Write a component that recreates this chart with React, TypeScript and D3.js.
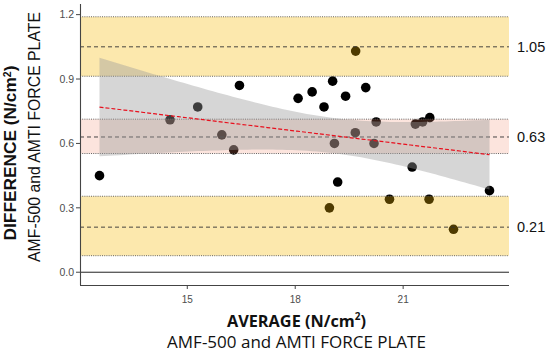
import * as d3 from 'd3';
import { useEffect, useRef } from 'react';

const WIDTH = 550;
const HEIGHT = 354;

// mean of the two devices (N/cm2)
const avgValues = [
    12.56, 14.52, 15.29, 15.96, 16.29, 16.45, 18.08, 18.47, 18.8, 19.04, 19.4, 19.96, 19.68, 19.09, 19.67, 20.25,
    20.19, 21.34, 21.54, 21.74, 21.25, 19.18, 18.95, 20.62, 21.72, 23.4, 22.4,
];
// difference between the two devices (N/cm2)
const diffValues = [
    0.45, 0.71, 0.77, 0.64, 0.57, 0.87, 0.81, 0.84, 0.77, 0.89, 0.82, 0.86, 1.03, 0.6, 0.65, 0.7, 0.6, 0.69, 0.7,
    0.72, 0.49, 0.42, 0.3, 0.34, 0.34, 0.38, 0.2,
];

// bias and limits of agreement, with their confidence bands
const refValues = [1.05, 0.63, 0.21];
const refLabels = ['1.05', '0.63', '0.21'];
const bandLow = [0.913, 0.553, 0.077];
const bandHigh = [1.19, 0.713, 0.354];
const bandColors = ['#F5B900', '#F08264', '#F5B900'];
const bandOpacity = [0.32, 0.22, 0.32];

const xTicks = [15, 18, 21];
const yTicks = [0, 0.3, 0.6, 0.9, 1.2];

const T_975_DF25 = 2.0595;

const App = () => {
    const svgRef = useRef<SVGSVGElement | null>(null);

    useEffect(() => {
        if (!svgRef.current) return;
        const svg = d3.select(svgRef.current);
        svg.selectAll('*').remove();

        const margin = { top: 4, right: 41, bottom: 69, left: 80 };
        const innerWidth = WIDTH - margin.left - margin.right;
        const innerHeight = HEIGHT - margin.top - margin.bottom;

        // ggplot-like 5% expansion
        const [xMin, xMax] = d3.extent(avgValues) as [number, number];
        const xPad = (xMax - xMin) * 0.05;
        const yLo = 0;
        const yHi = d3.max(bandHigh)!;
        const yPad = (yHi - yLo) * 0.05;

        const xScale = d3.scaleLinear().domain([xMin - xPad, xMax + xPad]).range([0, innerWidth]);
        const yScale = d3.scaleLinear().domain([yLo - yPad, yHi + yPad]).range([innerHeight, 0]);

        const g = svg.append('g').attr('transform', `translate(${margin.left},${margin.top})`);

        const pts = avgValues.map((x, i) => ({ x, y: diffValues[i] }));

        // points first, bands are laid over them
        g.append('g')
            .selectAll('circle')
            .data(pts)
            .join('circle')
            .attr('cx', (d) => xScale(d.x))
            .attr('cy', (d) => yScale(d.y))
            .attr('r', 4.8)
            .attr('fill', '#000');

        // zero line
        g.append('line')
            .attr('x1', 0)
            .attr('x2', innerWidth)
            .attr('y1', yScale(0))
            .attr('y2', yScale(0))
            .attr('stroke', '#222')
            .attr('stroke-width', 1);

        refValues.forEach((v, i) => {
            g.append('rect')
                .attr('x', 0)
                .attr('width', innerWidth)
                .attr('y', yScale(bandHigh[i]))
                .attr('height', yScale(bandLow[i]) - yScale(bandHigh[i]))
                .attr('fill', bandColors[i])
                .attr('fill-opacity', bandOpacity[i]);

            [bandLow[i], bandHigh[i]].forEach((b) => {
                g.append('line')
                    .attr('x1', 0)
                    .attr('x2', innerWidth)
                    .attr('y1', yScale(b))
                    .attr('y2', yScale(b))
                    .attr('stroke', '#555')
                    .attr('stroke-width', 0.9)
                    .attr('stroke-dasharray', '1,1.2');
            });

            g.append('line')
                .attr('x1', 0)
                .attr('x2', innerWidth)
                .attr('y1', yScale(v))
                .attr('y2', yScale(v))
                .attr('stroke', '#333')
                .attr('stroke-width', 0.9)
                .attr('stroke-dasharray', '4,3');

            g.append('text')
                .attr('x', innerWidth + 8)
                .attr('y', yScale(v))
                .attr('dy', '0.35em')
                .style('font-family', '"Liberation Sans", Arial, sans-serif')
                .style('font-size', '14.5px')
                .attr('fill', '#111')
                .text(refLabels[i]);
        });

        // linear fit with 95% confidence ribbon
        const n = pts.length;
        const mx = d3.mean(avgValues)!;
        const my = d3.mean(diffValues)!;
        const sxx = d3.sum(avgValues, (x) => (x - mx) ** 2);
        const sxy = d3.sum(pts, (d) => (d.x - mx) * (d.y - my));
        const slope = sxy / sxx;
        const intercept = my - slope * mx;
        const sse = d3.sum(pts, (d) => (d.y - (intercept + slope * d.x)) ** 2);
        const s = Math.sqrt(sse / (n - 2));
        const grid = d3.range(80).map((k) => xMin + ((xMax - xMin) * k) / 79);
        const fit = grid.map((x) => {
            const yhat = intercept + slope * x;
            const se = s * Math.sqrt(1 / n + (x - mx) ** 2 / sxx);
            return { x, yhat, lo: yhat - T_975_DF25 * se, hi: yhat + T_975_DF25 * se };
        });

        const area = d3
            .area<(typeof fit)[number]>()
            .x((d) => xScale(d.x))
            .y0((d) => yScale(d.lo))
            .y1((d) => yScale(d.hi));
        g.append('path').attr('d', area(fit)).attr('fill', '#999999').attr('fill-opacity', 0.4);

        const line = d3
            .line<(typeof fit)[number]>()
            .x((d) => xScale(d.x))
            .y((d) => yScale(d.yhat));
        g.append('path')
            .attr('d', line(fit))
            .attr('fill', 'none')
            .attr('stroke', '#E8101E')
            .attr('stroke-width', 1.2)
            .attr('stroke-dasharray', '4,2');

        // axes (classic theme: only left and bottom lines)
        const axisFont = '"Liberation Sans", Arial, sans-serif';
        g.append('line')
            .attr('x1', 0.5)
            .attr('x2', 0.5)
            .attr('y1', 0)
            .attr('y2', innerHeight)
            .attr('stroke', '#444')
            .attr('stroke-width', 1.1);
        g.append('line')
            .attr('x1', 0)
            .attr('x2', innerWidth)
            .attr('y1', innerHeight + 0.5)
            .attr('y2', innerHeight + 0.5)
            .attr('stroke', '#444')
            .attr('stroke-width', 1.1);

        const yt = g
            .append('g')
            .selectAll('g')
            .data(yTicks)
            .join('g')
            .attr('transform', (d) => `translate(0,${yScale(d)})`);
        yt.append('line').attr('x1', -4).attr('x2', 0).attr('stroke', '#444');
        yt.append('text')
            .attr('x', -6)
            .attr('dy', '0.35em')
            .attr('text-anchor', 'end')
            .attr('fill', '#4D4D4D')
            .style('font-family', axisFont)
            .style('font-size', '10.5px')
            .text((d) => d.toFixed(1));

        const xt = g
            .append('g')
            .selectAll('g')
            .data(xTicks)
            .join('g')
            .attr('transform', (d) => `translate(${xScale(d)},${innerHeight})`);
        xt.append('line').attr('y1', 0).attr('y2', 4).attr('stroke', '#444');
        xt.append('text')
            .attr('y', 18)
            .attr('text-anchor', 'middle')
            .attr('fill', '#4D4D4D')
            .style('font-family', axisFont)
            .style('font-size', '10px')
            .text((d) => d);

        // axis titles
        const titleFont = '"Open Sans", "Liberation Sans", sans-serif';
        const xMid = margin.left + innerWidth / 2 + 2;
        const xt1 = svg
            .append('text')
            .attr('x', xMid)
            .attr('y', 327)
            .attr('text-anchor', 'middle')
            .style('font-family', titleFont)
            .style('font-weight', 'bold')
            .style('font-size', '16.3px')
            .attr('fill', '#111');
        xt1.append('tspan').text('AVERAGE (N/cm');
        xt1.append('tspan').attr('dy', -7).style('font-size', '10px').text('2');
        xt1.append('tspan').attr('dy', 7).text(')');

        svg.append('text')
            .attr('x', xMid)
            .attr('y', 348)
            .attr('text-anchor', 'middle')
            .style('font-family', titleFont)
            .style('font-size', '17px')
            .attr('fill', '#111')
            .text('AMF-500 and AMTI FORCE PLATE');

        const yt1 = svg
            .append('text')
            .attr('transform', `translate(16,153) rotate(-90)`)
            .attr('text-anchor', 'middle')
            .style('font-family', axisFont)
            .style('font-weight', 'bold')
            .style('font-size', '17.3px')
            .attr('fill', '#111');
        yt1.append('tspan').text('DIFFERENCE (N/cm');
        yt1.append('tspan').attr('dy', -5.5).style('font-size', '10.5px').text('2');
        yt1.append('tspan').attr('dy', 5.5).text(')');

        svg.append('text')
            .attr('transform', `translate(40,137) rotate(-90)`)
            .attr('text-anchor', 'middle')
            .style('font-family', axisFont)
            .style('font-size', '15.8px')
            .attr('fill', '#111')
            .text('AMF-500 and AMTI FORCE PLATE');
    }, []);

    return (
        <svg
            ref={svgRef}
            width={WIDTH}
            height={HEIGHT}
            style={{ position: 'absolute', left: 0, top: 0, background: '#fff', display: 'block' }}
        ></svg>
    );
};

export default App;
